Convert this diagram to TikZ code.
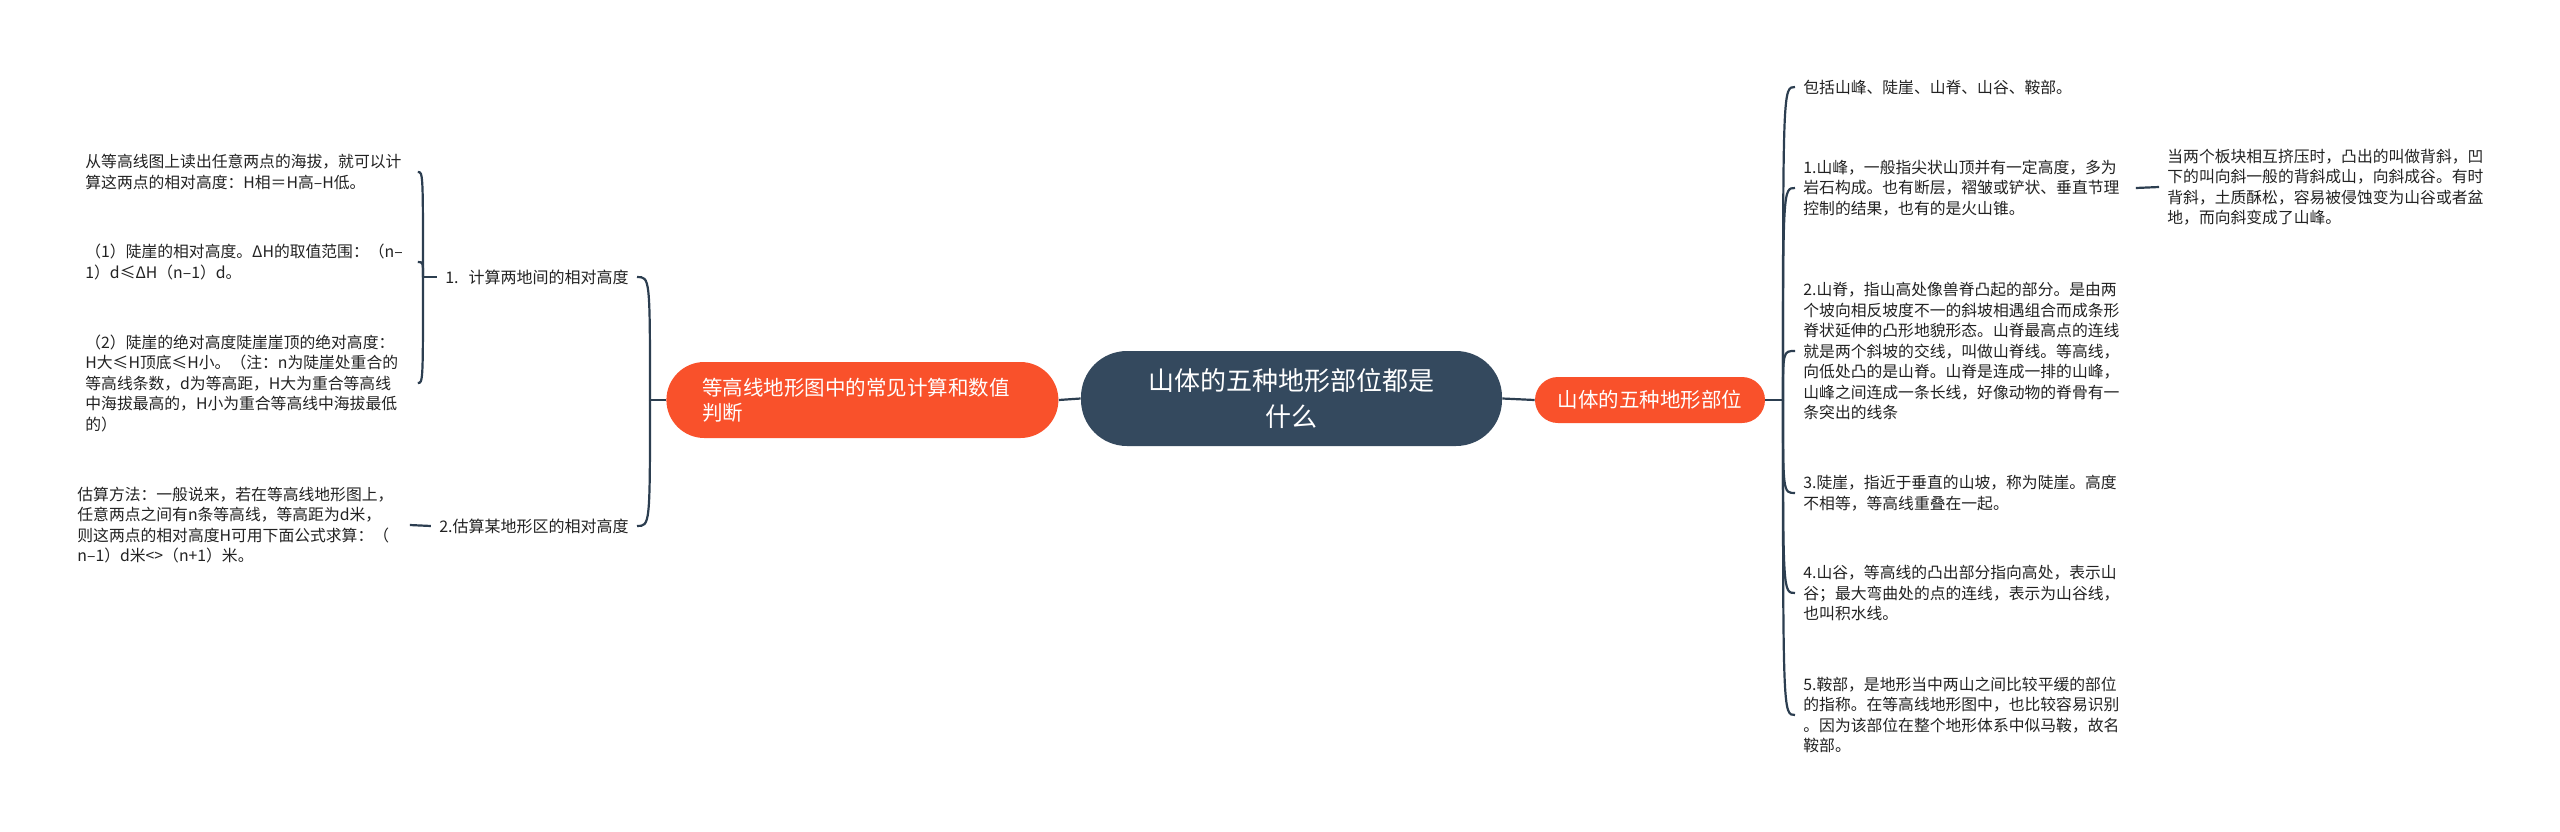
\documentclass[tikz,border=0pt]{standalone}
\usepackage{fontspec}
\setmainfont{Noto Sans CJK SC}
\definecolor{rootcol}{HTML}{34495E}
\definecolor{topiccol}{HTML}{F9512B}
\definecolor{linkcol}{HTML}{2C3E50}
\definecolor{textcol}{HTML}{222222}

\begin{document}
\begin{tikzpicture}[x=0.5pt, y=-0.5pt,
  link/.style={draw=linkcol, line width=1.1pt},
  rootbox/.style={fill=rootcol, text=white, rounded corners=23pt, minimum width=210.5pt, minimum height=47.5pt, align=center, font=\fontsize{13pt}{18pt}\selectfont},
  topicbox/.style={fill=topiccol, text=white, font=\fontsize{10.25pt}{12.25pt}\selectfont},
  sublabel/.style={text=textcol, inner sep=4pt, font=\fontsize{8pt}{10.25pt}\selectfont},
  leafbox/.style={text=textcol, inner sep=4pt, text width=162pt, align=left, font=\fontsize{7.9pt}{10.25pt}\selectfont}]
  \fill[white] (0,0) rectangle (2560,831);
  \useasboundingbox (0,0) rectangle (2560,831);

  % centre and the two main topics
  \node[rootbox] (root) at (1291.5,398.5) {山体的五种地形部位都是\\什么};
  \node[topicbox, rounded corners=19pt, minimum height=38pt, inner xsep=18pt, text width=160pt, align=left, anchor=west] (calc) at (666,400) {等高线地形图中的常见计算和数值\\判断};
  \node[topicbox, rounded corners=11.5pt, minimum height=23pt, minimum width=115pt] (parts) at (1650,400) {山体的五种地形部位};

  % left side
  \node[sublabel, anchor=east] (relh) at (637,277) {1.\hspace{5pt}计算两地间的相对高度};
  \node[sublabel, anchor=east] (esth) at (637,526) {2.估算某地形区的相对高度};
  \node[leafbox, anchor=west] (readh) at (77,172) {从等高线图上读出任意两点的海拔，就可以计\\算这两点的相对高度：H相＝H高–H低。};
  \node[leafbox, anchor=west] (cliffrel) at (77,262) {（1）陡崖的相对高度。ΔH的取值范围：（n–\\1）d≤ΔH（n–1）d。};
  \node[leafbox, anchor=west] (cliffabs) at (77,383) {（2）陡崖的绝对高度陡崖崖顶的绝对高度：\\H大≤H顶底≤H小。（注：n为陡崖处重合的\\等高线条数，d为等高距，H大为重合等高线\\中海拔最高的，H小为重合等高线中海拔最低\\的）};
  \node[leafbox, anchor=west] (estway) at (69,525) {估算方法：一般说来，若在等高线地形图上，\\任意两点之间有n条等高线，等高距为d米，\\则这两点的相对高度H可用下面公式求算：（\\n–1）d米<>（n+1）米。};

  % right side
  \node[leafbox, anchor=west] (incl) at (1795,87) {包括山峰、陡崖、山脊、山谷、鞍部。};
  \node[leafbox, anchor=west] (peak) at (1795,188) {1.山峰，一般指尖状山顶并有一定高度，多为\\岩石构成。也有断层，褶皱或铲状、垂直节理\\控制的结果，也有的是火山锥。};
  \node[leafbox, anchor=west] (fold) at (2159,187) {当两个板块相互挤压时，凸出的叫做背斜，凹\\下的叫向斜一般的背斜成山，向斜成谷。有时\\背斜，土质酥松，容易被侵蚀变为山谷或者盆\\地，而向斜变成了山峰。};
  \node[leafbox, anchor=west] (ridge) at (1795,351) {2.山脊，指山高处像兽脊凸起的部分。是由两\\个坡向相反坡度不一的斜坡相遇组合而成条形\\脊状延伸的凸形地貌形态。山脊最高点的连线\\就是两个斜坡的交线，叫做山脊线。等高线，\\向低处凸的是山脊。山脊是连成一排的山峰，\\山峰之间连成一条长线，好像动物的脊骨有一\\条突出的线条};
  \node[leafbox, anchor=west] (cliff) at (1795,493) {3.陡崖，指近于垂直的山坡，称为陡崖。高度\\不相等，等高线重叠在一起。};
  \node[leafbox, anchor=west] (valley) at (1795,593) {4.山谷，等高线的凸出部分指向高处，表示山\\谷；最大弯曲处的点的连线，表示为山谷线，\\也叫积水线。};
  \node[leafbox, anchor=west] (saddle) at (1795,715) {5.鞍部，是地形当中两山之间比较平缓的部位\\的指称。在等高线地形图中，也比较容易识别\\。因为该部位在整个地形体系中似马鞍，故名\\鞍部。};

  % root links
  \draw[link] (root.west) -- (calc.east);
  \draw[link] (root.east) -- (parts.west);

  % right branches
  \coordinate (pj) at (1783,400);
  \draw[link] (parts.east) -- (pj);
  \foreach \leaf in {incl,peak,ridge,cliff,valley,saddle}
    \draw[link] (pj) .. controls (pj |- \leaf.west) and (pj |- \leaf.west) .. (\leaf.west);
  \draw[link] (peak.east) -- (fold.west);

  % left branches
  \coordinate (cj) at (650,400);
  \draw[link] (calc.west) -- (cj);
  \foreach \sub in {relh,esth}
    \draw[link] (cj) .. controls (cj |- \sub.east) and (cj |- \sub.east) .. (\sub.east);
  \coordinate (rj) at (423,277);
  \draw[link] (relh.west) -- (rj);
  \foreach \leaf in {readh,cliffrel,cliffabs}
    \draw[link] (rj) .. controls (rj |- \leaf.east) and (rj |- \leaf.east) .. (\leaf.east);
  \draw[link] (estway.east) -- (esth.west);
\end{tikzpicture}
\end{document}
